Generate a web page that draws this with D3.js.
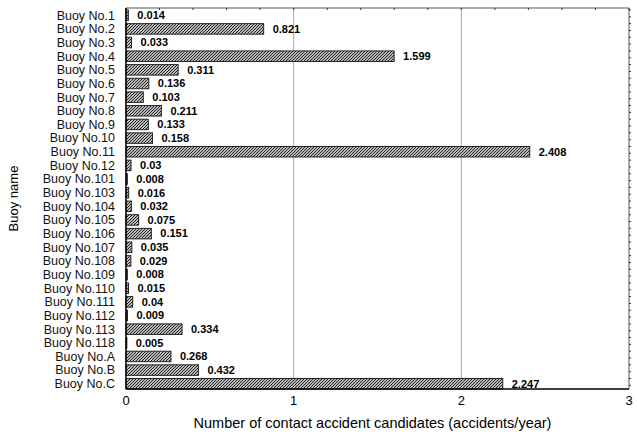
<!DOCTYPE html>
<html>
<head>
<meta charset="utf-8">
<script src="https://cdn.jsdelivr.net/npm/d3@7"></script>
<style>
  body { margin: 0; background: #fff; }
  text { font-family: "Liberation Sans", Arial, sans-serif; }
</style>
</head>
<body>
<div id="chart"></div>
<script>
const buoys = ["Buoy No.1", "Buoy No.2", "Buoy No.3", "Buoy No.4", "Buoy No.5", "Buoy No.6",
  "Buoy No.7", "Buoy No.8", "Buoy No.9", "Buoy No.10", "Buoy No.11", "Buoy No.12",
  "Buoy No.101", "Buoy No.103", "Buoy No.104", "Buoy No.105", "Buoy No.106", "Buoy No.107",
  "Buoy No.108", "Buoy No.109", "Buoy No.110", "Buoy No.111", "Buoy No.112", "Buoy No.113",
  "Buoy No.118", "Buoy No.A", "Buoy No.B", "Buoy No.C"];
const candidates = [0.014, 0.821, 0.033, 1.599, 0.311, 0.136, 0.103, 0.211, 0.133, 0.158,
  2.408, 0.03, 0.008, 0.016, 0.032, 0.075, 0.151, 0.035, 0.029, 0.008, 0.015, 0.04, 0.009,
  0.334, 0.005, 0.268, 0.432, 2.247];
const xTicks = [0, 1, 2, 3];

const W = 637, H = 432;
const MARGIN = { TOP: 8, BOTTOM: 43, LEFT: 126, RIGHT: 8 };
const WIDTH = W - MARGIN.LEFT - MARGIN.RIGHT;
const HEIGHT = H - MARGIN.TOP - MARGIN.BOTTOM;

const svg = d3.select("#chart").append("svg")
  .attr("width", W).attr("height", H);

// hatch fill
svg.append("defs").append("pattern")
  .attr("id", "hatch")
  .attr("patternUnits", "userSpaceOnUse")
  .attr("width", 3).attr("height", 3)
  .call(p => {
    p.append("rect").attr("width", 3).attr("height", 3).attr("fill", "#fff");
    p.append("path").attr("d", "M-1,1 l2,-2 M0,3 l3,-3 M2,4 l2,-2")
      .attr("stroke", "#1a1a1a").attr("stroke-width", 1.15);
  });

const g = svg.append("g").attr("transform", `translate(${MARGIN.LEFT},${MARGIN.TOP})`);

const x = d3.scaleLinear().domain([0, 3]).range([0, WIDTH]);
const y = d3.scaleBand().domain(buoys).range([2, HEIGHT]).paddingInner(0.23).paddingOuter(0);

// frame top / right (gray)
g.append("line").attr("x1", 0).attr("x2", WIDTH).attr("y1", 0).attr("y2", 0)
  .attr("stroke", "#555").attr("stroke-width", 1);
g.append("line").attr("x1", WIDTH).attr("x2", WIDTH).attr("y1", 0).attr("y2", HEIGHT)
  .attr("stroke", "#555").attr("stroke-width", 1);

// gridlines
g.selectAll(".grid").data(xTicks.slice(1, -1)).enter().append("line")
  .attr("x1", d => x(d)).attr("x2", d => x(d))
  .attr("y1", 0).attr("y2", HEIGHT)
  .attr("stroke", "#aaa").attr("stroke-width", 1);

// minor ticks along top
g.selectAll(".ttick").data(d3.range(0, 3.001, 0.2)).enter().append("line")
  .attr("x1", d => x(d)).attr("x2", d => x(d))
  .attr("y1", 0).attr("y2", 2)
  .attr("stroke", "#333");

// small ticks on right
const step = y.step();
g.selectAll(".rtick").data(d3.range(0, 56)).enter().append("line")
  .attr("x1", WIDTH).attr("x2", WIDTH + 2)
  .attr("y1", d => 2 + d * step / 2).attr("y2", d => 2 + d * step / 2)
  .attr("stroke", "#333");

// bars
g.selectAll("rect.bar").data(buoys).enter().append("rect")
  .attr("class", "bar")
  .attr("x", 0)
  .attr("y", d => y(d))
  .attr("width", (d, i) => x(candidates[i]))
  .attr("height", y.bandwidth())
  .attr("fill", "url(#hatch)")
  .attr("stroke", "#222").attr("stroke-width", 1);

// value labels
g.selectAll("text.val").data(buoys).enter().append("text")
  .attr("class", "val")
  .attr("x", (d, i) => x(candidates[i]) + 9)
  .attr("y", d => y(d) + y.bandwidth() / 2)
  .attr("dy", "0.35em")
  .attr("font-size", 11)
  .attr("font-weight", "bold")
  .text((d, i) => String(candidates[i]));

// y labels
g.selectAll("text.cat").data(buoys).enter().append("text")
  .attr("class", "cat")
  .attr("x", -11)
  .attr("y", d => y(d) + y.bandwidth() / 2)
  .attr("dy", "0.35em")
  .attr("text-anchor", "end")
  .attr("font-size", 12.5)
  .attr("fill", "#111")
  .text(d => d);

// axes lines
g.append("line").attr("x1", 0).attr("x2", 0).attr("y1", 0).attr("y2", HEIGHT)
  .attr("stroke", "#000").attr("stroke-width", 1.5);
g.append("line").attr("x1", 0).attr("x2", WIDTH).attr("y1", HEIGHT).attr("y2", HEIGHT)
  .attr("stroke", "#000").attr("stroke-width", 1.5);

// x tick labels
g.selectAll("text.xt").data(xTicks).enter().append("text")
  .attr("x", d => x(d))
  .attr("y", HEIGHT + 16)
  .attr("text-anchor", "middle")
  .attr("font-size", 13)
  .text(d => d);

g.append("text")
  .attr("x", (193 + 552) / 2 - MARGIN.LEFT)
  .attr("y", HEIGHT + 39)
  .attr("text-anchor", "middle")
  .attr("font-size", 14.5)
  .text("Number of contact accident candidates (accidents/year)");

g.append("text")
  .attr("transform", `translate(${-108},${HEIGHT / 2}) rotate(-90)`)
  .attr("text-anchor", "middle")
  .attr("font-size", 13)
  .text("Buoy name");
</script>
</body>
</html>
